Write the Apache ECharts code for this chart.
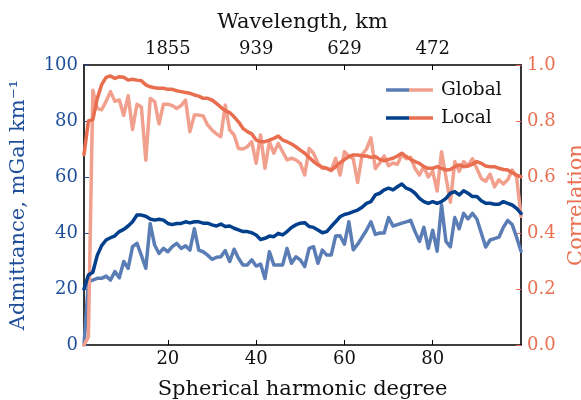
<!DOCTYPE html>
<html>
<head>
<meta charset="utf-8">
<script src="https://cdn.jsdelivr.net/npm/echarts@6/dist/echarts.min.js"></script>
<style>
html, body { margin: 0; padding: 0; background: #fff; }
#main { width: 581px; height: 400px; }
</style>
</head>
<body>
<div id="main"></div>
<script>
// spherical harmonic degrees 1..100
var degrees = [];
for (var l = 1; l <= 100; l++) degrees.push(l);

var globalAdm = [0, 22.6, 23.2, 23.8, 23.8, 24.6, 23.2, 26.2, 24, 29.8,
  27.4, 35.1, 36.3, 32, 27.4, 43.4, 35.7, 32.7, 34.5, 33.3,
  35.1, 36.3, 34.5, 35.4, 33.9, 41.5, 33.9, 33.3, 32.1, 30.6,
  31.3, 31.5, 33.7, 29.8, 34.2, 31, 28.6, 28.6, 30.4, 28.2,
  28.9, 23.8, 33.3, 28.6, 28.6, 28.6, 34.5, 29.2, 31.5, 30.4,
  28, 34.5, 35.1, 29.2, 33.9, 32.1, 32.1, 38.9, 39, 36,
  44, 34, 36, 38.5, 41, 44, 39.5, 40, 40, 45.5,
  42.5, 43, 43.5, 44, 44.5, 40.5, 37, 42, 34.5, 41,
  33.5, 50, 37, 35, 45.5, 41.5, 47, 45, 47, 45,
  40, 35, 37.5, 38, 38.5, 42, 44.5, 43, 38.5, 33.5];

var localAdm = [20, 25, 26, 32, 35.5, 37.5, 38.3, 39, 40.5, 41.3,
  42.5, 44, 46.4, 46.4, 46, 45, 44.6, 44.9, 44.6, 43.4,
  43, 43.4, 43.4, 44, 43.6, 44, 44, 43.5, 43.5, 42.9,
  42.5, 43.2, 42.3, 42.5, 41.7, 41.1, 40.5, 40.5, 40.1, 39.3,
  37.7, 38.1, 38.9, 38.7, 39.9, 39.3, 40.5, 42, 42.9, 43.5,
  43.7, 42.3, 42, 41.1, 40.1, 40.5, 42.3, 44, 45.8, 46.6,
  47, 47.6, 48.2, 49.2, 50.6, 51.2, 53.6, 54.2, 55.4, 56,
  55.4, 56.5, 57.5, 56, 55.4, 54.2, 52.4, 51.2, 50.6, 51.2,
  50.6, 51.2, 52.4, 54.2, 54.8, 53.6, 55.1, 54.2, 53, 53,
  51.5, 50.6, 50.6, 50.3, 50.3, 51.2, 50.6, 50, 48.8, 47];

var globalCorr = [0, 0.03, 0.91, 0.845, 0.84, 0.87, 0.905, 0.87, 0.875, 0.82,
  0.89, 0.77, 0.86, 0.85, 0.66, 0.88, 0.87, 0.79, 0.86, 0.86,
  0.855, 0.845, 0.855, 0.875, 0.762, 0.821, 0.821, 0.818, 0.786, 0.768,
  0.754, 0.744, 0.857, 0.768, 0.75, 0.702, 0.70, 0.708, 0.726, 0.649,
  0.75, 0.631, 0.726, 0.685, 0.72, 0.69, 0.661, 0.667, 0.661, 0.649,
  0.607, 0.702, 0.685, 0.649, 0.631, 0.631, 0.625, 0.667, 0.607, 0.69,
  0.675, 0.665, 0.58, 0.68, 0.70, 0.74, 0.63, 0.65, 0.675, 0.64,
  0.65, 0.645, 0.68, 0.665, 0.67, 0.63, 0.607, 0.637, 0.60, 0.62,
  0.55, 0.69, 0.60, 0.51, 0.655, 0.62, 0.655, 0.64, 0.665, 0.63,
  0.595, 0.585, 0.61, 0.565, 0.59, 0.575, 0.59, 0.625, 0.6, 0.46];

var localCorr = [0.68, 0.80, 0.805, 0.88, 0.93, 0.956, 0.961, 0.952, 0.958, 0.956,
  0.946, 0.949, 0.946, 0.944, 0.929, 0.922, 0.919, 0.917, 0.917, 0.913,
  0.913, 0.908, 0.905, 0.902, 0.899, 0.893, 0.889, 0.881, 0.881, 0.875,
  0.863, 0.849, 0.837, 0.83, 0.815, 0.797, 0.774, 0.762, 0.754, 0.732,
  0.726, 0.726, 0.732, 0.738, 0.746, 0.732, 0.726, 0.718, 0.708, 0.696,
  0.685, 0.67, 0.655, 0.643, 0.635, 0.631, 0.623, 0.637, 0.651, 0.662,
  0.673, 0.679, 0.679, 0.675, 0.675, 0.67, 0.673, 0.663, 0.658, 0.663,
  0.667, 0.675, 0.685, 0.673, 0.663, 0.655, 0.649, 0.637, 0.631, 0.631,
  0.637, 0.631, 0.625, 0.627, 0.637, 0.643, 0.637, 0.639, 0.646, 0.655,
  0.649, 0.639, 0.637, 0.637, 0.631, 0.627, 0.625, 0.615, 0.607, 0.601];

var degTicks = [20, 40, 60, 80];
var wavelengthLabels = ['1855', '939', '629', '472'];

var FONT = 'DejaVu Serif';
var C_GLOBAL_ADM = '#5b7db5';
var C_LOCAL_ADM = '#023f8c';
var C_GLOBAL_COR = '#f2a08e';
var C_LOCAL_COR = '#e86e4f';
var C_LEFT = '#1f4f9a';
var C_RIGHT = '#ea7052';

function pairs(vals) {
  return degrees.map(function (d, i) { return [d, vals[i]]; });
}

function lineSeries(name, vals, color, yIdx) {
  return {
    name: name, type: 'line', yAxisIndex: yIdx, data: pairs(vals),
    symbol: 'none', smooth: false, animation: false,
    lineStyle: { color: color, width: 3.5, cap: 'round', join: 'round' }
  };
}

var myChart = echarts.init(document.getElementById('main'));
var option = {
  backgroundColor: '#fff',
  grid: { left: 84, right: 60, top: 65, bottom: 55, containLabel: false, outerBoundsMode: 'none' },
  xAxis: [
    {
      type: 'value', position: 'bottom', min: 1, max: 100,
      name: 'Spherical harmonic degree', nameLocation: 'middle', nameGap: 34,
      nameTextStyle: { fontFamily: FONT, fontSize: 21, color: '#111' },
      axisLine: { onZero: false, lineStyle: { color: '#000', width: 1.6 } },
      axisTick: { inside: true, length: 5, customValues: degTicks, lineStyle: { color: '#000', width: 1 } },
      axisLabel: { customValues: degTicks, fontFamily: FONT, fontSize: 18, color: '#111', margin: 5 },
      splitLine: { show: false }
    },
    {
      type: 'value', position: 'top', min: 1, max: 100,
      name: 'Wavelength, km', nameLocation: 'middle', nameGap: 32,
      nameTextStyle: { fontFamily: FONT, fontSize: 21, color: '#111' },
      axisLine: { onZero: false, lineStyle: { color: '#000', width: 1.6 } },
      axisTick: { inside: true, length: 5, customValues: degTicks, lineStyle: { color: '#000', width: 1 } },
      axisLabel: {
        customValues: degTicks, fontFamily: FONT, fontSize: 18, color: '#111', margin: 7,
        formatter: function (v) { return wavelengthLabels[degTicks.indexOf(v)]; }
      },
      splitLine: { show: false }
    }
  ],
  yAxis: [
    {
      type: 'value', position: 'left', min: 0, max: 100, interval: 20,
      name: 'Admittance, mGal km\u207B\u00B9', nameLocation: 'middle', nameGap: 55,
      nameTextStyle: { fontFamily: FONT, fontSize: 21, color: C_LEFT },
      axisLine: { show: true, lineStyle: { color: '#000', width: 1.6 } },
      axisTick: { show: true, inside: true, length: 5, lineStyle: { color: C_LEFT, width: 1 } },
      axisLabel: { fontFamily: FONT, fontSize: 18, color: C_LEFT, margin: 6 },
      splitLine: { show: false }
    },
    {
      type: 'value', position: 'right', min: 0, max: 1, interval: 0.2,
      name: 'Correlation', nameLocation: 'middle', nameGap: 40,
      nameTextStyle: { fontFamily: FONT, fontSize: 21, color: C_RIGHT },
      axisLine: { show: true, lineStyle: { color: '#000', width: 1.6 } },
      axisTick: { show: true, inside: true, length: 5, lineStyle: { color: C_RIGHT, width: 1 } },
      axisLabel: {
        fontFamily: FONT, fontSize: 18, color: C_RIGHT, margin: 6,
        formatter: function (v) { return v.toFixed(1); }
      },
      splitLine: { show: false }
    }
  ],
  series: [
    lineSeries('Global admittance', globalAdm, C_GLOBAL_ADM, 0),
    lineSeries('Global correlation', globalCorr, C_GLOBAL_COR, 1),
    lineSeries('Local admittance', localAdm, C_LOCAL_ADM, 0),
    lineSeries('Local correlation', localCorr, C_LOCAL_COR, 1)
  ],
  // legend: each entry pairs the admittance and correlation colour
  graphic: [
    { type: 'line', shape: { x1: 386, y1: 90, x2: 409, y2: 90 }, style: { stroke: C_GLOBAL_ADM, lineWidth: 3.5 } },
    { type: 'line', shape: { x1: 409, y1: 90, x2: 433, y2: 90 }, style: { stroke: C_GLOBAL_COR, lineWidth: 3.5 } },
    { type: 'text', x: 441, y: 90, style: { text: 'Global', fontFamily: FONT, fontSize: 18.5, fill: '#111', verticalAlign: 'middle' } },
    { type: 'line', shape: { x1: 386, y1: 118, x2: 409, y2: 118 }, style: { stroke: C_LOCAL_ADM, lineWidth: 3.5 } },
    { type: 'line', shape: { x1: 409, y1: 118, x2: 433, y2: 118 }, style: { stroke: C_LOCAL_COR, lineWidth: 3.5 } },
    { type: 'text', x: 441, y: 118, style: { text: 'Local', fontFamily: FONT, fontSize: 18.5, fill: '#111', verticalAlign: 'middle' } }
  ]
};
myChart.setOption(option, true);
</script>
</body>
</html>
